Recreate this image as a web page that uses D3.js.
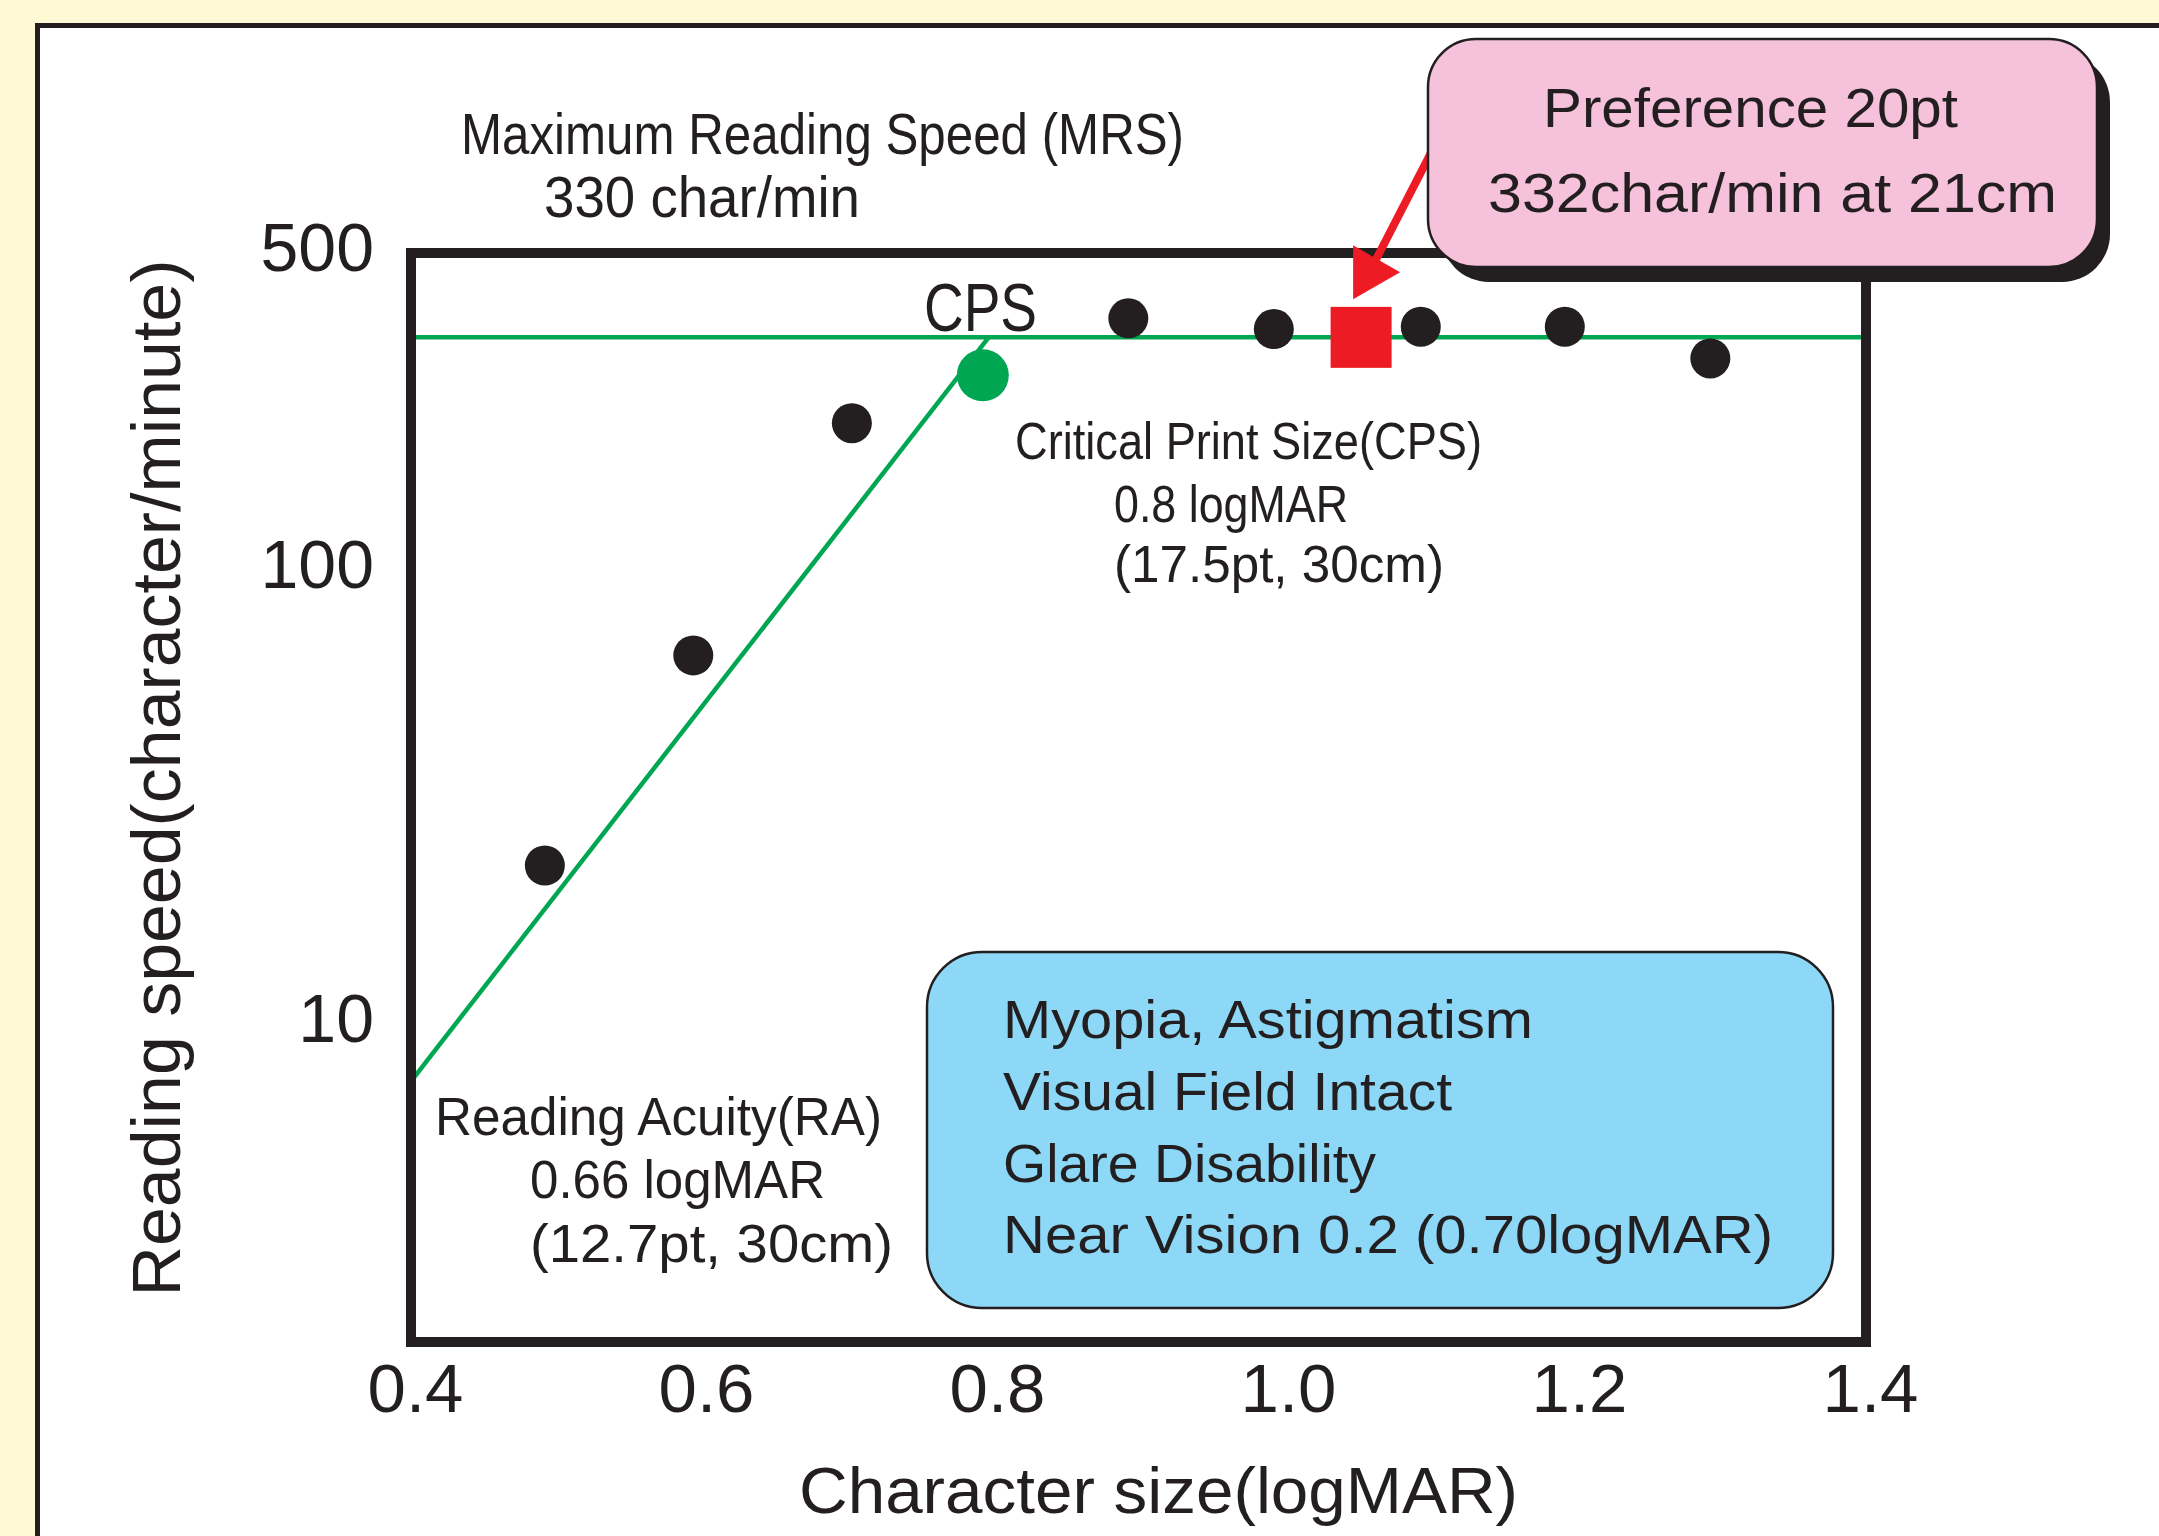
<!DOCTYPE html>
<html>
<head>
<meta charset="utf-8">
<script src="https://cdn.jsdelivr.net/npm/d3@7"></script>
<style>
  body { margin: 0; background: #fff9d6; }
  svg { display: block; }
  text { font-family: "Liberation Sans", Arial, sans-serif; fill: #231f20; }
</style>
</head>
<body>
<svg id="chart"></svg>
<script>
// reading speed vs character size (MNREAD style curve)

var sizes  = [0.492, 0.594, 0.703, 0.793, 0.893, 0.993, 1.094, 1.193, 1.293];
var speeds = [22.4, 65, 211, 269, 359, 340, 344, 344, 293];
var cpsIndex = 3;                  // the green point

var prefSize  = [1.053];
var prefSpeed = [326];

var mrsSpeed = 326;
var raLineX = [0.4, 0.797];
var raLineY = [7.5, 326];

var xTicks = [0.4, 0.6, 0.8, 1.0, 1.2, 1.4];
var yTicks = [10, 100, 500];

var W = 2159, H = 1536;
var ink = "#231f20", green = "#00a651", red = "#ed1c24";

var svg = d3.select("#chart").attr("width", W).attr("height", H);

// cream page + white panel
svg.append("rect").attr("width", W).attr("height", H).attr("fill", "#fff9d6");
svg.append("rect")
	.attr("x", 37.5).attr("y", 25.5)
	.attr("width", W).attr("height", H)
	.attr("fill", "#fff").attr("stroke", ink).attr("stroke-width", 5);

var plot = {left: 411, right: 1866, top: 253, bottom: 1342};

var x = d3.scaleLinear().domain([0.4, 1.4]).range([plot.left, plot.right]);
var y = d3.scaleLog().domain([2, 500]).range([plot.bottom, plot.top]);

// axes
var xAxis = svg.append("g")
	.attr("transform", "translate(0," + plot.bottom + ")")
	.call(d3.axisBottom(x).tickValues(xTicks).tickFormat(d3.format(".1f")).tickSize(0).tickPadding(21));
xAxis.select(".domain").remove();
xAxis.selectAll("text")
	.attr("dx", 4)
	.style("font-size", "69px")
	.style("font-family", "Liberation Sans, Arial, sans-serif")
	.attr("fill", ink);

var yAxis = svg.append("g")
	.attr("transform", "translate(" + plot.left + ",0)")
	.call(d3.axisLeft(y).tickValues(yTicks).tickFormat(d3.format("d")).tickSize(0).tickPadding(37));
yAxis.select(".domain").remove();
yAxis.selectAll("text")
	.attr("dy", "0.25em")
	.style("font-size", "68px")
	.style("font-family", "Liberation Sans, Arial, sans-serif")
	.attr("fill", ink);

// fitted lines
svg.append("line")
	.attr("x1", x(0.4)).attr("x2", x(1.4))
	.attr("y1", y(mrsSpeed)).attr("y2", y(mrsSpeed))
	.attr("stroke", green).attr("stroke-width", 4.5);

svg.append("path")
	.datum(d3.zip(raLineX, raLineY))
	.attr("d", d3.line().x(function(d) { return x(d[0]); }).y(function(d) { return y(d[1]); }))
	.attr("fill", "none").attr("stroke", green).attr("stroke-width", 4.5);

// frame
svg.append("rect")
	.attr("x", plot.left).attr("y", plot.top)
	.attr("width", plot.right - plot.left).attr("height", plot.bottom - plot.top)
	.attr("fill", "none").attr("stroke", ink).attr("stroke-width", 10);

// measured points
svg.selectAll(".pt")
	.data(d3.zip(sizes, speeds))
	.enter().append("circle")
	.attr("class", "pt")
	.attr("cx", function(d) { return x(d[0]); })
	.attr("cy", function(d) { return y(d[1]); })
	.attr("r", function(d, i) { return i === cpsIndex ? 26 : 20; })
	.attr("fill", function(d, i) { return i === cpsIndex ? green : ink; });

// preferred size marker
var sq = 61;
svg.selectAll(".pref")
	.data(d3.zip(prefSize, prefSpeed))
	.enter().append("rect")
	.attr("class", "pref")
	.attr("x", function(d) { return x(d[0]) - sq / 2; })
	.attr("y", function(d) { return y(d[1]) - sq / 2; })
	.attr("width", sq).attr("height", sq)
	.attr("fill", red);

// arrow from the callout to the marker
var tipX = x(prefSize[0]) - 8, tipY = y(prefSpeed[0]) - 38;
svg.append("line")
	.attr("x1", tipX + 92).attr("y1", tipY - 174)
	.attr("x2", tipX + 23).attr("y2", tipY - 40)
	.attr("stroke", red).attr("stroke-width", 8);
svg.append("polygon")
	.attr("points", [[tipX, tipY], [tipX, tipY - 54], [tipX + 47, tipY - 27]].join(" "))
	.attr("fill", red);

// callout boxes
var pink = {x: 1428, y: 39, w: 669, h: 228};
svg.append("rect")
	.attr("x", pink.x + 13).attr("y", pink.y + 15)
	.attr("width", pink.w).attr("height", pink.h)
	.attr("rx", 48).attr("fill", ink);
svg.append("rect")
	.attr("x", pink.x).attr("y", pink.y)
	.attr("width", pink.w).attr("height", pink.h)
	.attr("rx", 48).attr("fill", "#f6c1da")
	.attr("stroke", ink).attr("stroke-width", 2.5);

svg.append("rect")
	.attr("x", 927).attr("y", 952)
	.attr("width", 906).attr("height", 356)
	.attr("rx", 55).attr("fill", "#8ed8f7")
	.attr("stroke", ink).attr("stroke-width", 2.5);

// text labels: [text, x, baseline, font size, length]
var labels = [
	["Maximum Reading Speed (MRS)", 461, 154, 57, 723],
	["330 char/min", 544, 217, 57, 316],
	["CPS", 924, 331, 69, 113],
	["Critical Print Size(CPS)", 1015, 459, 52, 467],
	["0.8 logMAR", 1114, 522, 52, 234],
	["(17.5pt, 30cm)", 1114, 582, 52, 330],
	["Reading Acuity(RA)", 435, 1135, 54, 447],
	["0.66 logMAR", 530, 1198, 54, 295],
	["(12.7pt, 30cm)", 530, 1262, 54, 363],
	["Preference 20pt", 1543, 127, 56, 415],
	["332char/min at 21cm", 1488, 212, 56, 569],
	["Myopia, Astigmatism", 1003, 1038, 53, 530],
	["Visual Field Intact", 1003, 1110, 53, 449],
	["Glare Disability", 1003, 1182, 53, 373],
	["Near Vision 0.2 (0.70logMAR)", 1003, 1253, 53, 770],
	["Character size(logMAR)", 799, 1513, 65, 719]
];

svg.selectAll(".lbl")
	.data(labels)
	.enter().append("text")
	.attr("class", "lbl")
	.attr("x", function(d) { return d[1]; })
	.attr("y", function(d) { return d[2]; })
	.attr("font-size", function(d) { return d[3]; })
	.attr("textLength", function(d) { return d[4]; })
	.attr("lengthAdjust", "spacingAndGlyphs")
	.text(function(d) { return d[0]; });

// y axis title
svg.append("text")
	.attr("transform", "translate(180,778) rotate(-90)")
	.attr("text-anchor", "middle")
	.attr("font-size", 68)
	.attr("textLength", 1037)
	.attr("lengthAdjust", "spacingAndGlyphs")
	.text("Reading speed(character/minute)");
</script>
</body>
</html>
